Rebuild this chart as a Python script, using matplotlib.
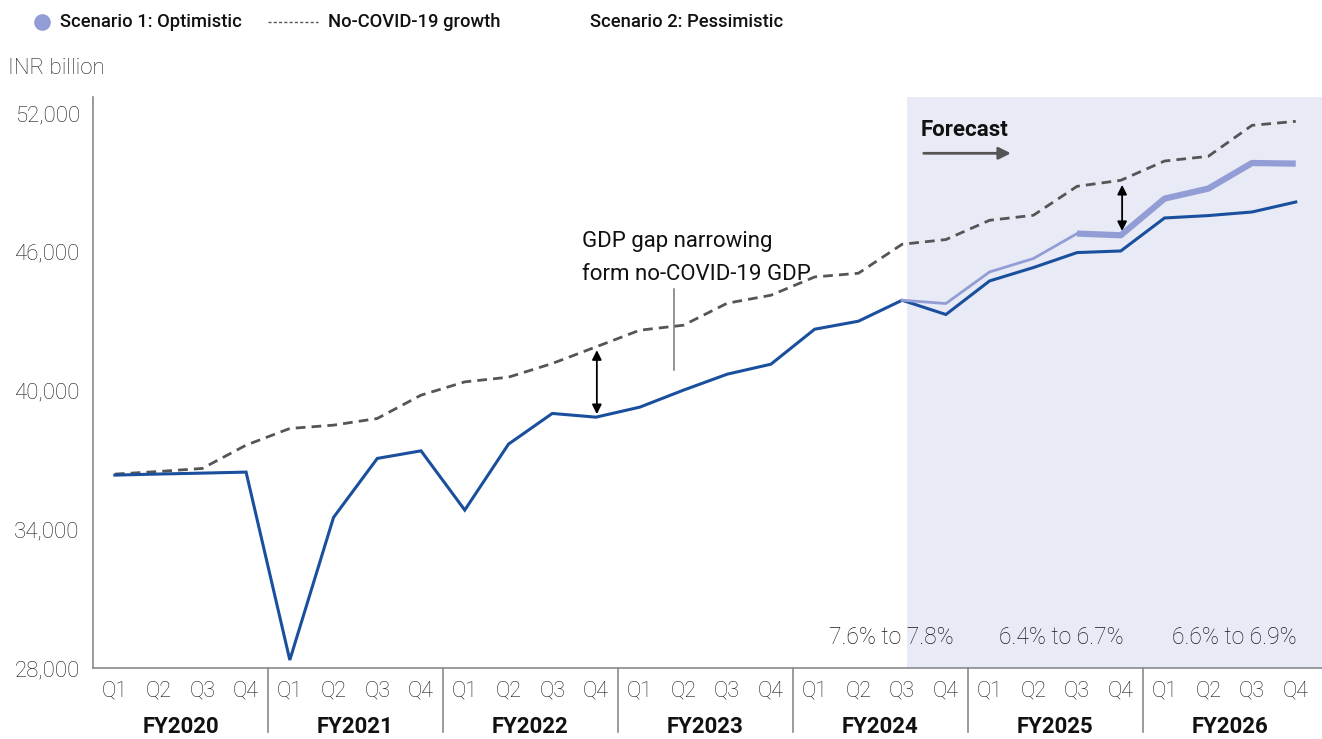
import matplotlib
matplotlib.use("Agg")
import matplotlib.pyplot as plt
from matplotlib.lines import Line2D
from matplotlib.transforms import blended_transform_factory

plt.rcParams['font.family'] = ['Roboto', 'DejaVu Sans']

# ---------------- data ----------------
years = ["FY2020", "FY2021", "FY2022", "FY2023", "FY2024", "FY2025", "FY2026"]
quarters = ["Q1", "Q2", "Q3", "Q4"]

actual_pessimistic = [36344, 36390, 36430, 36474,
                      28346, 34515, 37066, 37394,
                      34831, 37684, 39011, 38851,
                      39283, 40019, 40710, 41142,
                      42655, 43001, 43909, 43291,
                      44744, 45322, 45970, 46040,
                      47467, 47570, 47726, 48158]

optimistic = [43909, 43766,
              45133, 45711, 46792, 46719,
              48305, 48737, 49845, 49818]
optimistic_start = 18  # Q3 FY2024

no_covid = [36387, 36500, 36633, 37640,
            38362, 38505, 38794, 39802,
            40377, 40580, 41172, 41890,
            42612, 42828, 43779, 44125,
            44916, 45076, 46330, 46533,
            47367, 47583, 48837, 49096,
            49931, 50134, 51474, 51647]

growth_labels = ["7.6% to 7.8%", "6.4% to 6.7%", "6.6% to 6.9%"]
yticks = [28000, 34000, 40000, 46000, 52000]

# ---------------- styling ----------------
BLUE = "#1a4f9e"
LAV = "#939dd5"
SHADE = "#e8eaf6"
DASH = "#555555"
SPINE = "#8a8a8a"
TXT = "#1a1a1a"

W, H = 1322, 739
fig = plt.figure(figsize=(W / 100, H / 100), dpi=100)
ax = fig.add_axes([93 / W, 71 / H, (W - 93) / W, 571 / H])

n = len(years) * len(quarters)
x = list(range(n))
ax.set_xlim(-0.5, 27.6)
ax.set_ylim(28000, 52700)

# forecast shading
ax.axvspan(18.1, 27.6, color=SHADE, lw=0, zorder=0)

# lines
ax.plot(x, no_covid, color=DASH, lw=2.0, dashes=(3.5, 2.2), zorder=3)
ax.plot(x, actual_pessimistic, color=BLUE, lw=2.2, zorder=4, solid_joinstyle='miter')
ox = list(range(optimistic_start, optimistic_start + len(optimistic)))
split = 4  # thin segment up to Q3 FY2025
ax.plot(ox[:split + 1], optimistic[:split + 1], color=LAV, lw=2.0, zorder=5)
ax.plot(ox[split:], optimistic[split:], color=LAV, lw=4.5, zorder=5, solid_capstyle='butt')

# axes styling
for s in ["top", "right"]:
    ax.spines[s].set_visible(False)
ax.spines["left"].set_color(SPINE)
ax.spines["bottom"].set_color(SPINE)
ax.spines["left"].set_linewidth(1.2)
ax.spines["bottom"].set_linewidth(1.2)

ax.set_yticks(yticks)
ax.set_yticklabels([f"{v:,}" for v in yticks])
ax.tick_params(axis='y', length=0, pad=9.5, labelsize=16, labelcolor=TXT)
for lab in ax.get_yticklabels():
    lab.set_fontweight('light')

ax.set_xticks(x)
ax.set_xticklabels(quarters * len(years))
ax.tick_params(axis='x', length=0, pad=9, labelsize=15.5, labelcolor=TXT)
for lab in ax.get_xticklabels():
    lab.set_fontweight('light')

trans = blended_transform_factory(ax.transData, ax.transAxes)
for i, yr in enumerate(years):
    ax.text(i * 4 + 1.5, -0.104, yr, transform=trans, ha='center', va='center',
            fontsize=16, fontweight='bold', color="#111111")
    if i > 0:
        ax.add_line(Line2D([i * 4 - 0.5, i * 4 - 0.5], [0, -0.112], transform=trans,
                           color=SPINE, lw=1.2, clip_on=False))

# growth labels
for cx, txt in zip([17.75, 21.65, 25.6], growth_labels):
    ax.text(cx, 29300, txt, ha='center', va='center', fontsize=16.5,
            fontweight='light', color=TXT)

# Forecast label and arrow
ax.text(18.43, 51260, "Forecast", ha='left', va='center', fontsize=16,
        fontweight='bold', color="#111111")
ax.annotate("", xy=(20.55, 50265), xytext=(18.43, 50265),
            arrowprops=dict(arrowstyle='-|>', color="#555555", lw=2,
                            mutation_scale=18))

# gap arrows
ax.annotate("", xy=(11.02, 41750), xytext=(11.02, 38980),
            arrowprops=dict(arrowstyle='<|-|>', color="black", lw=1.3,
                            mutation_scale=14, shrinkA=0, shrinkB=0))
ax.annotate("", xy=(23.03, 48900), xytext=(23.03, 46900),
            arrowprops=dict(arrowstyle='<|-|>', color="black", lw=1.3,
                            mutation_scale=14, shrinkA=0, shrinkB=0))

# annotation text and pointer line
ax.text(10.68, 45720, "GDP gap narrowing\nform no-COVID-19 GDP", ha='left',
        va='center', fontsize=16, color="#111111", linespacing=1.75, zorder=2)
ax.add_line(Line2D([12.78, 12.78], [40880, 44390], color="#777777", lw=1.1))

# y-axis unit
fig.text(8 / W, 1 - 68 / H, "INR billion", ha='left', va='center', fontsize=16,
         fontweight='light', color=TXT)

# legend
ly = 1 - 22 / H
fig.add_artist(Line2D([42 / W], [ly], marker='o', markersize=12, color=LAV,
                      markeredgewidth=0, transform=fig.transFigure))
fig.text(60 / W, ly, "Scenario 1: Optimistic", ha='left', va='center',
         fontsize=13.2, fontweight='medium', color="#111111")
fig.add_artist(Line2D([268 / W, 318 / W], [ly, ly], color="#555555", lw=1.0,
                      dashes=(2.2, 1.6), transform=fig.transFigure))
fig.text(328 / W, ly, "No-COVID-19 growth", ha='left', va='center',
         fontsize=13.2, fontweight='medium', color="#111111")
fig.text(590 / W, ly, "Scenario 2: Pessimistic", ha='left', va='center',
         fontsize=13.2, fontweight='medium', color="#111111")

fig.savefig("out.png", dpi=100)
